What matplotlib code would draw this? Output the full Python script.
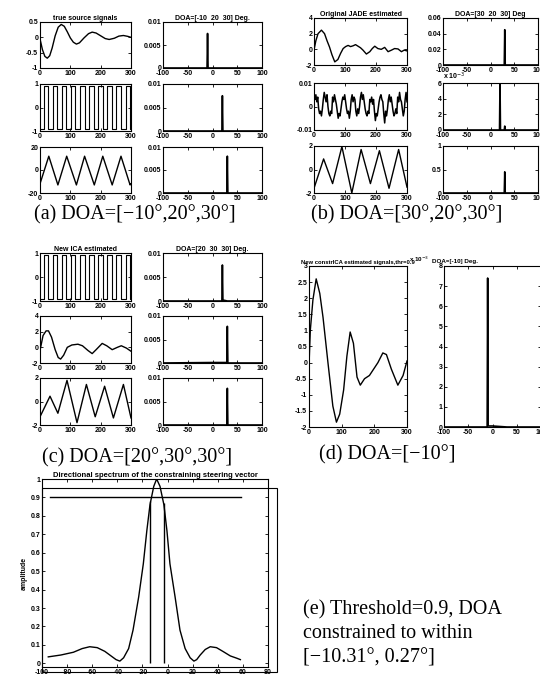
import numpy as np
import matplotlib
matplotlib.use("Agg")
import matplotlib.pyplot as plt
from matplotlib.patches import Rectangle

plt.rcParams['font.family'] = ['Liberation Sans', 'DejaVu Sans']

W, H = 540, 680

# ---- data ----
# damped source (a, row 1)
damp_t = [0, 8, 16, 24, 32, 40, 50, 60, 70, 80, 90, 100, 110, 120, 130, 145,
          160, 172, 185, 200, 215, 228, 245, 260, 275, 290, 300]
damp_v = [-0.05, -0.4, -0.62, -0.68, -0.6, -0.35, 0.05, 0.33, 0.42, 0.36, 0.18,
          -0.02, -0.16, -0.22, -0.18, -0.02, 0.12, 0.17, 0.14, 0.05, -0.04,
          -0.07, -0.03, 0.04, 0.06, 0.03, 0.0]

# square source (a, row 2) and its ICA estimate (c, row 1)
sq_t = [0, 12, 27, 42, 57, 72, 87, 102, 117, 132, 147, 162, 177, 192, 207,
        222, 237, 252, 267, 282, 297, 300]
sq_v = [-0.92, 0.92, -0.92, 0.92, -0.92, 0.92, -0.92, 0.92, -0.92, 0.92, -0.92,
        0.92, -0.92, 0.92, -0.92, 0.92, -0.92, 0.92, -0.92, 0.92, -0.92, -0.92]

# triangle source (a, row 3)
tri_t = [0, 29, 59, 88, 120, 147, 179, 207, 238, 267, 297, 300]
tri_v = [-12, 12, -13, 12, -13, 12, -13, 12, -13, 12, -13, -12]

# JADE estimates (b)
jade1_t = [0, 6, 13, 24, 34, 42, 50, 58, 67, 77, 86, 94, 102, 110, 118, 126,
           134, 142, 150, 158, 169, 180, 188, 196, 206, 217, 228, 239, 250,
           260, 271, 282, 291, 300]
jade1_v = [-0.1, 1.1, 2.0, 2.45, 2.0, 1.1, 0.3, -0.7, -1.6, -1.3, -0.5, 0.1,
           0.35, 0.5, 0.35, 0.45, 0.6, 0.4, 0.2, -0.1, -0.6, -0.3, 0.1, 0.4,
           0.1, 0.0, 0.25, -0.3, -0.1, 0.1, 0.05, -0.3, -0.1, -0.2]
jade2_t = np.arange(0, 301, 3)
jade2_v = np.array([4, 3, 5, 2, 4, -1, -3, -2, -4, -1, 3, 6, 4, 2, 5,
                    0, -3, -4, -2, -3, 4, 2, 5, 3, 1, -2, -5, -3, -4, -1,
                    2, 4, 3, 5, 2, -1, -3, -2, -5, -2, 3, 5, 2, 4, 3,
                    -2, -4, -1, -3, 0, 4, 6, 3, 5, 2, -1, -3, -4, -2, -3,
                    3, 2, 4, 1, 3, -2, -6, -3, -4, -1, 2, 4, 5, 3, 2,
                    -3, -7, -2, -4, -1, 3, 5, 2, 4, 1, -2, -4, -3, -1, -3,
                    4, 2, 6, 3, 2, -1, -4, -2, 3, 6, 2]) * 1e-3
jade3_t = [0, 31, 60, 90, 122, 152, 182, 211, 242, 273, 300]
jade3_v = [-1.6, 0.9, -1.2, 1.95, -2.0, 1.7, -1.2, 1.6, -1.6, 1.7, -1.5]

# new ICA estimates (c)
ica2_t = [0, 10, 20, 28, 38, 50, 60, 68, 78, 90, 105, 125, 140, 158, 172, 185,
          205, 220, 238, 255, 268, 285, 300]
ica2_v = [-0.4, 1.5, 2.1, 2.1, 1.3, -0.3, -1.3, -1.5, -1.0, 0.0, 0.3, 0.4, 0.2,
          -0.4, -0.8, -0.3, 0.5, 0.2, -0.3, 0.0, 0.2, -0.1, -0.5]
ica3_t = [0, 33, 59, 89, 122, 153, 182, 213, 242, 275, 300]
ica3_v = [-1.3, 0.45, -1.0, 1.8, -1.8, 1.45, -1.3, 1.3, -1.4, 1.45, -1.4]

# constrained ICA estimate (d)
cica_t = [0, 4, 12, 22, 33, 43, 58, 73, 84, 94, 106, 116, 126, 136, 147, 157,
          170, 185, 198, 211, 226, 237, 252, 272, 288, 300]
cica_v = [-0.1, 1.0, 1.95, 2.6, 2.15, 1.4, 0.0, -1.35, -1.85, -1.6, -0.85, 0.2,
          0.95, 0.6, -0.45, -0.7, -0.5, -0.4, -0.2, 0.0, 0.3, 0.25, -0.2,
          -0.7, -0.4, 0.05]

# DOA spectra (deg, value)
spec_a1 = ([-100, -11, -10, -9, 100], [0, 0, 0.0075, 0, 0])
spec_a2 = ([-100, 19, 20, 21, 100], [0, 0, 0.0075, 0, 0])
spec_a3 = ([-100, 29, 30, 31, 100], [0, 0, 0.008, 0, 0])
spec_b1 = ([-100, 29, 30, 31, 100], [0, 0, 0.045, 0, 0])
spec_b2 = ([-100, 19, 20, 21, 29, 30, 31, 100], [0, 0, 6.0, 0, 0, 0.5, 0, 0])
spec_b3 = ([-100, 29, 30, 31, 100], [0, 0, 0.45, 0, 0])
spec_c1 = ([-100, 19, 20, 21, 30, 100], [0, 0, 0.0075, 0.0002, 0, 0])
spec_c2 = ([-100, 0, 29, 30, 31, 100], [0, 0.0001, 0.0001, 0.0078, 0, 0])
spec_c3 = ([-100, 29, 30, 31, 100], [0, 0, 0.0078, 0, 0])
spec_d = ([-100, -11, -10, -9, 0, 30, 100], [0, 0, 7.4, 0.05, 0.05, 0, 0])

# directional spectrum (e)
dir_x = [-95, -85, -75, -68, -62, -56, -50, -45, -41, -38, -35, -31, -27.5,
         -23, -19.3, -16.5, -14, -11, -8.7, -6, -2.9, -0.5, 1.9, 6, 9.9, 14,
         18, 21, 23.2, 26, 30, 34, 39, 44, 50, 55, 58]
dir_y = [0.035, 0.045, 0.06, 0.08, 0.09, 0.085, 0.065, 0.04, 0.02, 0.012, 0.03,
         0.08, 0.18, 0.36, 0.54, 0.72, 0.86, 0.96, 1.0, 0.96, 0.86, 0.72, 0.54,
         0.36, 0.18, 0.08, 0.03, 0.012, 0.02, 0.045, 0.075, 0.09, 0.085, 0.065,
         0.04, 0.028, 0.02]
thr = 0.9
thr_span = [-93.6, 58.4]
bound_x = [-14, -2.9]
bound_top = [0.88, 0.87]

fig = plt.figure(figsize=(W / 100, H / 100), dpi=100)
fig.patch.set_facecolor('white')

TS = 5


def add_ax(l, t, r, b):
    return fig.add_axes([l / W, 1 - b / H, (r - l) / W, (b - t) / H])


def style(ax, xlim, xt, ylim, yt, ylab):
    ax.set_xlim(*xlim)
    ax.set_ylim(*ylim)
    ax.set_xticks(xt)
    ax.set_xticklabels([str(v) for v in xt])
    ax.set_yticks(yt)
    ax.set_yticklabels(ylab)
    ax.tick_params(direction='in', length=2, width=0.6, labelsize=TS,
                   pad=1.2, top=True, right=True)
    for lab in ax.get_xticklabels() + ax.get_yticklabels():
        lab.set_fontweight('bold')
    for s in ax.spines.values():
        s.set_linewidth(0.8)


def sig_ax(box, t, v, ylim, yt, ylab, step=False, title=None, lw=1.0,
           tsize=TS):
    ax = add_ax(*box)
    if step:
        ax.plot(t, v, color='black', lw=lw, drawstyle='steps-post')
    else:
        ax.plot(t, v, color='black', lw=lw)
    style(ax, (0, 300), [0, 100, 200, 300], ylim, yt, ylab)
    if title:
        ax.set_title(title, fontsize=tsize, fontweight='bold', pad=1.5)
    return ax


def spec_ax(box, spec, ylim, yt, ylab, title=None):
    ax = add_ax(*box)
    ax.plot(spec[0], spec[1], color='black', lw=1.2)
    style(ax, (-100, 100), [-100, -50, 0, 50, 100], ylim, yt, ylab)
    if title:
        ax.set_title(title, fontsize=TS, fontweight='bold', pad=1.5)
    return ax


small_yt = [0, 0.005, 0.01]
small_lab = ['0', '0.005', '0.01']

# ---- (a) ----
sig_ax((40, 22, 131, 68), damp_t, damp_v, (-1, 0.5), [-1, -0.5, 0, 0.5],
       ['-1', '-0.5', '0', '0.5'], title='true source signals')
sig_ax((40, 84, 131, 131), sq_t, sq_v, (-1, 1), [-1, 0, 1], ['-1', '0', '1'],
       step=True, lw=0.8)
sig_ax((40, 147, 131, 193), tri_t, tri_v, (-20, 20), [-20, 0, 20],
       ['-20', '0', '20'])
spec_ax((163, 22, 262, 68), spec_a1, (0, 0.01), small_yt, small_lab,
        title='DOA=[-10  20  30] Deg.')
spec_ax((163, 84, 262, 131), spec_a2, (0, 0.01), small_yt, small_lab)
spec_ax((163, 147, 262, 193), spec_a3, (0, 0.01), small_yt, small_lab)

# ---- (b) ----
sig_ax((314, 18, 407, 65), jade1_t, jade1_v, (-2, 4), [-2, 0, 2, 4],
       ['-2', '0', '2', '4'], title='Original JADE estimated')
sig_ax((314, 83, 407, 130), jade2_t, jade2_v, (-0.01, 0.01), [-0.01, 0, 0.01],
       ['-0.01', '0', '0.01'], lw=1.1)
sig_ax((314, 146, 407, 193), jade3_t, jade3_v, (-2, 2), [-2, 0, 2],
       ['-2', '0', '2'])
spec_ax((443, 18, 538, 65), spec_b1, (0, 0.06), [0, 0.02, 0.04, 0.06],
        ['0', '0.02', '0.04', '0.06'], title='DOA=[30  20  30] Deg')
axb2 = spec_ax((443, 83, 538, 130), spec_b2, (0, 6), [0, 2, 4, 6],
               ['0', '2', '4', '6'])
axb2.text(0.0, 1.03, r'x 10$^{-3}$', transform=axb2.transAxes, fontsize=TS,
          fontweight='bold', ha='left', va='bottom')
spec_ax((443, 146, 538, 193), spec_b3, (0, 1), [0, 0.5, 1], ['0', '0.5', '1'])

# ---- (c) ----
sig_ax((40, 253, 131, 301), sq_t, sq_v, (-1, 1), [-1, 0, 1], ['-1', '0', '1'],
       step=True, lw=0.8, title='New ICA estimated')
sig_ax((40, 316, 131, 363), ica2_t, ica2_v, (-2, 4), [-2, 0, 2, 4],
       ['-2', '0', '2', '4'])
sig_ax((40, 378, 131, 425), ica3_t, ica3_v, (-2, 2), [-2, 0, 2],
       ['-2', '0', '2'])
spec_ax((163, 253, 262, 301), spec_c1, (0, 0.01), small_yt, small_lab,
        title='DOA=[20  30  30] Deg.')
spec_ax((163, 316, 262, 363), spec_c2, (0, 0.01), small_yt, small_lab)
spec_ax((163, 378, 262, 425), spec_c3, (0, 0.01), small_yt, small_lab)

# ---- (d) ----
d_yt = [-2, -1.5, -1, -0.5, 0, 0.5, 1, 1.5, 2, 2.5, 3]
sig_ax((309, 266, 407, 427), cica_t, cica_v, (-2, 3), d_yt,
       ['-2', '-1.5', '-1', '-0.5', '0', '0.5', '1', '1.5', '2', '2.5', '3'],
       title='New constrICA estimated signals,thr=0.9', tsize=4.2)
axd = spec_ax((444, 266, 541, 427), spec_d, (0, 8), list(range(9)),
              [str(v) for v in range(9)])
axd.text(-0.36, 1.01, r'x 10$^{-3}$', transform=axd.transAxes, fontsize=4.5,
         fontweight='bold', ha='left', va='bottom')
axd.text(-0.12, 1.01, 'DOA=[-10] Deg.', transform=axd.transAxes, fontsize=4.5,
         fontweight='bold', ha='left', va='bottom')

# ---- (e) ----
axe = add_ax(42, 479, 268, 667)
axe.plot(dir_x, dir_y, color='black', lw=1.0)
axe.plot(thr_span, [thr, thr], color='black', lw=1.0)
axe.vlines(bound_x, 0, bound_top, color='black', lw=1.0)
e_xt = list(range(-100, 81, 20))
e_yt = [round(0.1 * k, 1) for k in range(11)]
style(axe, (-100, 80), e_xt, (-0.02, 1.0), e_yt,
      ['0'] + [str(v) for v in e_yt[1:-1]] + ['1'])
axe.set_title('Directional spectrum of the constraining steering vector',
              fontsize=5.5, fontweight='bold', pad=1.5)
axe.set_ylabel('amplitude', fontsize=TS, fontweight='bold', labelpad=2)
# second, offset frame seen in the scan
fig.add_artist(Rectangle((42 / W, 1 - 672 / H), (277 - 42) / W, (672 - 488) / H,
                         transform=fig.transFigure, fill=False, lw=0.8,
                         edgecolor='black'))

# ---- captions ----
cap = dict(fontsize=14.5, family=['Liberation Serif', 'DejaVu Serif'],
           va='center')
fig.text(135 / W, 1 - 215 / H, '(a) DOA=[\u221210\u00b0,20\u00b0,30\u00b0]',
         ha='center', **cap)
fig.text(407 / W, 1 - 215 / H, '(b) DOA=[30\u00b0,20\u00b0,30\u00b0]',
         ha='center', **cap)
fig.text(137 / W, 1 - 458 / H, '(c) DOA=[20\u00b0,30\u00b0,30\u00b0]',
         ha='center', **cap)
fig.text(387 / W, 1 - 455 / H, '(d) DOA=[\u221210\u00b0]', ha='center', **cap)
fig.text(303 / W, 1 - 610 / H, '(e) Threshold=0.9, DOA', ha='left', **cap)
fig.text(303 / W, 1 - 634 / H, 'constrained to within', ha='left', **cap)
fig.text(303 / W, 1 - 658 / H, '[\u221210.31\u00b0, 0.27\u00b0]', ha='left',
         **cap)

fig.savefig('out.png', dpi=100)
